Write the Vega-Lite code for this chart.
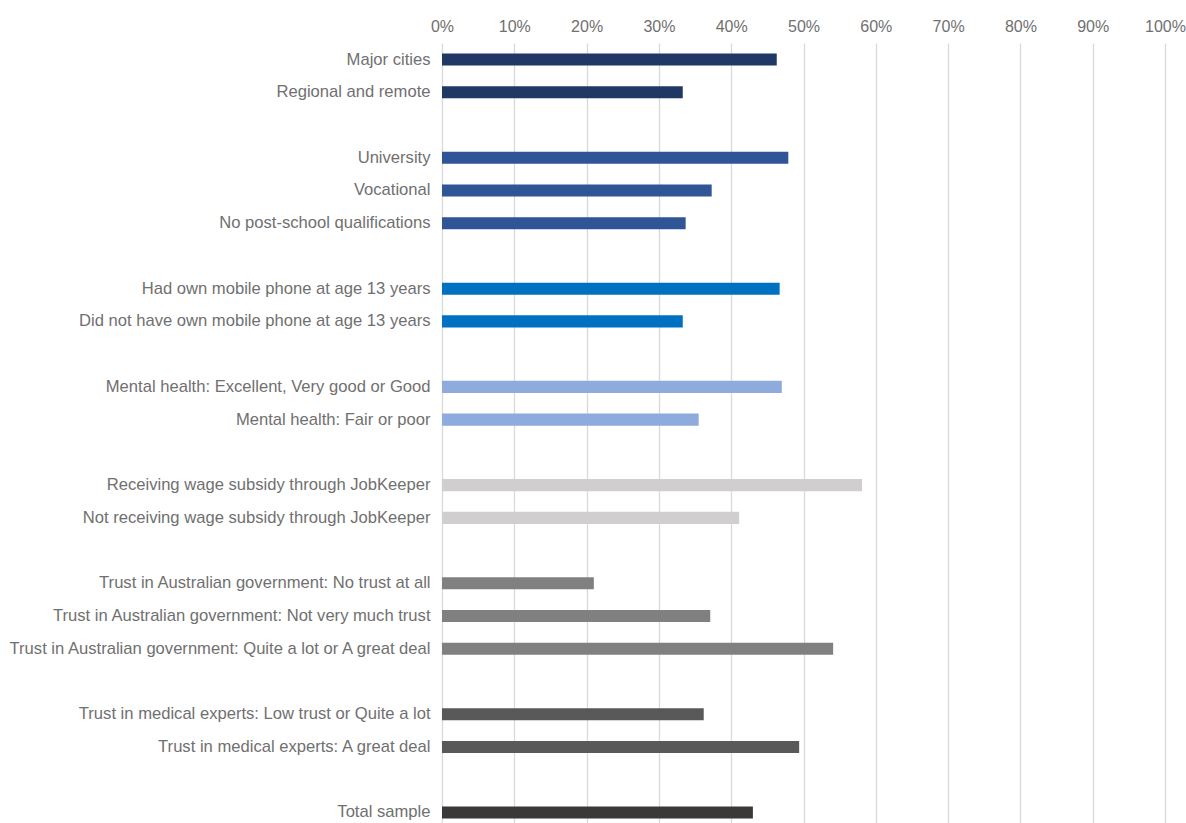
{
  "$schema": "https://vega.github.io/schema/vega-lite/v6.json",
  "autosize": "none",
  "padding": {"left": 442, "top": 43, "right": 21, "bottom": 0},
  "width": 723,
  "height": 780,
  "background": "white",
  "config": {"view": {"stroke": null}, "font": "Liberation Sans"},
  "data": {"values": [
    {"label": "Major cities", "group": "Geography", "value": 46.3},
    {"label": "Regional and remote", "group": "Geography", "value": 33.3},
    {"label": "University", "group": "Education", "value": 47.9},
    {"label": "Vocational", "group": "Education", "value": 37.3},
    {"label": "No post-school qualifications", "group": "Education", "value": 33.7},
    {"label": "Had own mobile phone at age 13 years", "group": "Mobile", "value": 46.7},
    {"label": "Did not have own mobile phone at age 13 years", "group": "Mobile", "value": 33.3},
    {"label": "Mental health: Excellent, Very good or Good", "group": "Mental", "value": 47.0},
    {"label": "Mental health: Fair or poor", "group": "Mental", "value": 35.5},
    {"label": "Receiving wage subsidy through JobKeeper", "group": "JobKeeper", "value": 58.1},
    {"label": "Not receiving wage subsidy through JobKeeper", "group": "JobKeeper", "value": 41.1},
    {"label": "Trust in Australian government: No trust at all", "group": "Government", "value": 21.0},
    {"label": "Trust in Australian government: Not very much trust", "group": "Government", "value": 37.1},
    {"label": "Trust in Australian government: Quite a lot or A great deal", "group": "Government", "value": 54.1},
    {"label": "Trust in medical experts: Low trust or Quite a lot", "group": "Medical", "value": 36.2},
    {"label": "Trust in medical experts: A great deal", "group": "Medical", "value": 49.4},
    {"label": "Total sample", "group": "Total", "value": 43.0}
  ]},
  "mark": {"type": "bar"},
  "encoding": {
    "y": {
      "field": "label", "type": "nominal",
      "scale": {
        "domain": ["Major cities", "Regional and remote", "gap1", "University", "Vocational", "No post-school qualifications", "gap2", "Had own mobile phone at age 13 years", "Did not have own mobile phone at age 13 years", "gap3", "Mental health: Excellent, Very good or Good", "Mental health: Fair or poor", "gap4", "Receiving wage subsidy through JobKeeper", "Not receiving wage subsidy through JobKeeper", "gap5", "Trust in Australian government: No trust at all", "Trust in Australian government: Not very much trust", "Trust in Australian government: Quite a lot or A great deal", "gap6", "Trust in medical experts: Low trust or Quite a lot", "Trust in medical experts: A great deal", "gap7", "Total sample"],
        "paddingInner": 0.63, "paddingOuter": 0.229, "align": 0.7
      },
      "axis": {
        "title": null, "domain": false, "ticks": false, "grid": false,
        "labelPadding": 12, "labelFontSize": 16.6, "labelColor": "#707070", "labelLimit": 500,
        "labelExpr": "indexof(datum.value, 'gap') == 0 ? '' : datum.value"
      }
    },
    "x": {
      "field": "value", "type": "quantitative",
      "scale": {"domain": [0, 100], "nice": false},
      "axis": {
        "orient": "top", "title": null, "domain": false, "ticks": false,
        "values": [0, 10, 20, 30, 40, 50, 60, 70, 80, 90, 100],
        "labelExpr": "datum.value + '%'", "labelFlush": false,
        "labelPadding": 9, "labelFontSize": 16, "labelColor": "#707070",
        "grid": true, "gridColor": "#d9d9d9", "gridWidth": 1.3
      }
    },
    "color": {
      "field": "group", "type": "nominal", "legend": null,
      "scale": {
        "domain": ["Geography", "Education", "Mobile", "Mental", "JobKeeper", "Government", "Medical", "Total"],
        "range": ["#203864", "#2f5597", "#0070c0", "#8faadc", "#d0cece", "#808080", "#595959", "#3b3838"]
      }
    }
  }
}
